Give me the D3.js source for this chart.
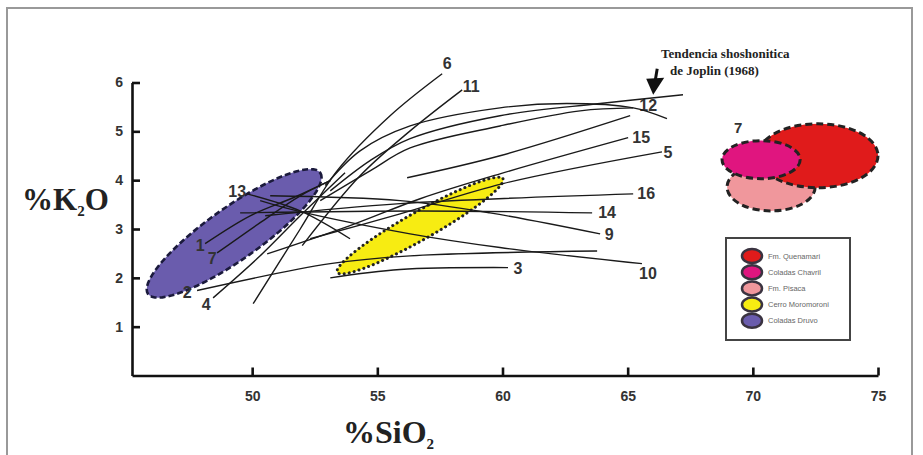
<!DOCTYPE html>
<html><head><meta charset="utf-8">
<script src="https://cdn.jsdelivr.net/npm/d3@7"></script>
<style>body{margin:0;background:#fff}</style>
</head><body><svg id="c" width="923" height="455"></svg>
<script>
// ---------- DATA (SiO2 %, K2O %) ----------
const xTicks = [50, 55, 60, 65, 70, 75];
const yTicks = [1, 2, 3, 4, 5, 6];

const line1  = [[48.12,2.70],[49.92,3.27],[51.64,3.64],[53.12,3.99]];
const line2  = [[47.80,1.74],[53.12,2.29],[56.31,2.45],[63.78,2.55]];
const line3  = [[53.12,2.00],[55.91,2.17],[60.22,2.21]];
const line4  = [[48.44,1.59],[50.32,2.45],[51.92,3.27],[53.71,4.15]];
const line5  = [[52.32,2.80],[55.91,3.31],[60.02,3.93],[66.37,4.58]];
const line6  = [[50.04,1.47],[51.92,3.00],[53.39,4.19],[55.51,5.32],[57.59,6.18]];
const line7  = [[48.60,2.51],[50.32,3.13],[51.92,3.68],[53.12,3.99]];
const line9  = [[50.72,3.68],[55.91,3.58],[59.50,3.33],[63.90,2.90]];
const line10 = [[50.32,3.58],[51.80,3.37],[56.31,2.90],[59.90,2.62],[65.57,2.29]];
const line11 = [[52.00,2.66],[54.31,4.09],[56.31,5.01],[58.39,5.85]];
const line12 = [[52.72,3.58],[54.71,4.19],[56.31,4.66],[59.90,5.11],[63.10,5.42],[65.22,5.48]];
const line13 = [[49.80,3.72],[51.92,3.37],[53.91,2.80]];
const line14 = [[49.52,3.33],[56.71,3.37],[63.58,3.33]];
const line15 = [[50.60,2.49],[53.91,3.07],[56.71,3.62],[59.90,4.13],[65.02,4.87]];
const line16 = [[50.52,3.27],[55.91,3.52],[65.22,3.72]];
const lineA  = [[56.19,4.05],[59.90,4.50],[65.10,5.32]];
const lineB  = [[52.92,3.89],[54.31,4.60],[56.31,5.11],[59.90,5.48],[62.58,5.57],[65.22,5.48],[66.57,5.26]];
const joplin = [[53.12,3.78],[54.71,4.40],[56.31,4.85],[59.90,5.32],[63.90,5.57],[67.21,5.75]];

// rotated fields: centre, end of major axis, end of minor axis
const druvoField = [[49.28,2.91],[52.72,4.15],[49.88,2.47]];
const cerroField = [[56.71,3.07],[60.02,4.03],[56.98,2.82]];
// axis-aligned fields: centre x, centre y, half-width (SiO2), half-height (K2O)
const pisacaField    = [70.73, 3.86, 1.76, 0.49];
const quenamariField = [72.60, 4.50, 2.40, 0.655];
const chavrilField   = [70.33, 4.42, 1.56, 0.39];

const legendNames  = ["Fm. Quenamari","Coladas Chavril","Fm. Pisaca","Cerro Moromoroni","Coladas Druvo"];
const legendColors = ["#e01b1b","#e0157f","#f0979c","#f7ec12","#6a5cad"];

// ---------- CHART ----------
const svg = d3.select("#c");
const x = d3.scaleLinear().domain([45.2, 75]).range([132, 878]);
const y = d3.scaleLinear().domain([0, 6]).range([375.5, 82.5]);
const numFont = "'Liberation Sans Narrow','Liberation Sans',Arial,sans-serif";
const serif = "'Liberation Serif','Times New Roman',serif";

svg.append("rect").attr("width",923).attr("height",455).attr("fill","#fff");
svg.append("rect").attr("x",7).attr("y",8).attr("width",905).attr("height",470)
  .attr("fill","none").attr("stroke","#999").attr("stroke-width",2);

// rotated ellipse through the scales
function fieldPath(f){
  const c=[x(f[0][0]),y(f[0][1])], a=[x(f[1][0]),y(f[1][1])], b=[x(f[2][0]),y(f[2][1])];
  const pts=d3.range(0,72).map(i=>{const t=i/72*2*Math.PI;
    return [c[0]+Math.cos(t)*(a[0]-c[0])+Math.sin(t)*(b[0]-c[0]),
            c[1]+Math.cos(t)*(a[1]-c[1])+Math.sin(t)*(b[1]-c[1])];});
  return d3.line().curve(d3.curveLinearClosed)(pts);
}
svg.append("path").attr("d",fieldPath(druvoField)).attr("fill",legendColors[4])
  .attr("stroke","#1b1a3c").attr("stroke-width",2.6).attr("stroke-dasharray","6,3");
svg.append("path").attr("d",fieldPath(cerroField)).attr("fill",legendColors[3])
  .attr("stroke","#222").attr("stroke-width",3).attr("stroke-linecap","round").attr("stroke-dasharray","0.1,5");

function field(f,color){
  svg.append("ellipse").attr("cx",x(f[0])).attr("cy",y(f[1]))
    .attr("rx",x(f[0]+f[2])-x(f[0])).attr("ry",y(f[1])-y(f[1]+f[3]))
    .attr("fill",color).attr("stroke","#222").attr("stroke-width",3).attr("stroke-dasharray","7,4");
}
field(pisacaField,legendColors[2]);
field(quenamariField,legendColors[0]);
field(chavrilField,legendColors[1]);
svg.append("text").attr("x",x(69.41)).attr("y",y(5.07)).attr("text-anchor","middle")
  .attr("dominant-baseline","central").attr("font-family",numFont).attr("font-weight","bold")
  .attr("font-size",15).attr("fill","#333").text("7");

// trend lines
const trends = [
  {d:line6,name:"6",at:1,dx:5,dy:-10},{d:line11,name:"11",at:1,dx:9,dy:-3},
  {d:line12,name:"12",at:1,dx:15,dy:-2},{d:line15,name:"15",at:1,dx:13,dy:0},
  {d:line5,name:"5",at:1,dx:6,dy:1},{d:line16,name:"16",at:1,dx:13,dy:0},
  {d:line14,name:"14",at:1,dx:15,dy:0},{d:line9,name:"9",at:1,dx:9,dy:1},
  {d:line10,name:"10",at:1,dx:6,dy:10},{d:line3,name:"3",at:1,dx:10,dy:1},
  {d:line13,name:"13",at:0,dx:-10,dy:-2},{d:line1,name:"1",at:0,dx:-5,dy:2},
  {d:line7,name:"7",at:0,dx:-5,dy:6},{d:line2,name:"2",at:0,dx:-10,dy:2},
  {d:line4,name:"4",at:0,dx:-7,dy:7},
  {d:lineA,name:""},{d:lineB,name:""},{d:joplin,name:""}
];
const lg = d3.line().x(d=>x(d[0])).y(d=>y(d[1])).curve(d3.curveCatmullRom.alpha(0.5));
trends.forEach(t=>{
  svg.append("path").attr("d",lg(t.d)).attr("fill","none").attr("stroke","#1a1a1a").attr("stroke-width",1.4);
  if(t.name){
    const p = t.at ? t.d[t.d.length-1] : t.d[0];
    svg.append("text").attr("x",x(p[0])+t.dx).attr("y",y(p[1])+t.dy)
      .attr("text-anchor","middle").attr("dominant-baseline","central")
      .attr("font-family",numFont).attr("font-weight","bold").attr("font-size",16)
      .attr("fill","#333").text(t.name);
  }
});

// Joplin annotation
const tip=[x(66.02),y(5.75)];
svg.append("path").attr("d",`M${tip[0]+4},${tip[1]-26}L${tip[0]+2},${tip[1]-14}`)
  .attr("stroke","#111").attr("stroke-width",3);
svg.append("path").attr("d",`M${tip[0]-7},${tip[1]-16}L${tip[0]+11},${tip[1]-17}L${tip[0]},${tip[1]}Z`).attr("fill","#111");
svg.append("text").attr("x",661).attr("y",58).attr("font-family",serif).attr("font-weight","bold")
  .attr("font-size",13).attr("fill","#222").text("Tendencia shoshonitica");
svg.append("text").attr("x",670).attr("y",75).attr("font-family",serif).attr("font-weight","bold")
  .attr("font-size",13).attr("fill","#222").text("de Joplin (1968)");

// axes
const gx = svg.append("g").attr("transform",`translate(0,${y.range()[0]})`)
  .call(d3.axisBottom(x).tickValues(xTicks).tickFormat(d3.format("d")).tickSize(-8).tickPadding(16).tickSizeOuter(0));
const gy = svg.append("g").attr("transform",`translate(${x.range()[0]},0)`)
  .call(d3.axisLeft(y).tickValues(yTicks).tickFormat(d3.format("d")).tickSize(-8).tickPadding(9).tickSizeOuter(0));
[gx,gy].forEach(g=>{
  g.select(".domain").attr("stroke","#111").attr("stroke-width",2.6);
  g.selectAll(".tick line").attr("stroke","#111").attr("stroke-width",2.6);
  g.selectAll(".tick text").attr("font-family",numFont).attr("font-weight","bold")
   .attr("font-size",14).attr("fill","#333");
});

// axis titles
const ty = svg.append("text").attr("x",22).attr("y",210).attr("font-family",serif)
  .attr("font-weight","bold").attr("font-size",31).attr("fill","#222");
ty.append("tspan").text("%K");
ty.append("tspan").attr("font-size",15).attr("dy",6).text("2");
ty.append("tspan").attr("dy",-6).text("O");
const tx = svg.append("text").attr("x",343).attr("y",443).attr("font-family",serif)
  .attr("font-weight","bold").attr("font-size",32).attr("fill","#222");
tx.append("tspan").text("%SiO");
tx.append("tspan").attr("font-size",15).attr("dy",6).text("2");

// legend
const lgd = svg.append("g");
lgd.append("rect").attr("x",726).attr("y",238).attr("width",124).attr("height",102)
  .attr("fill","#fff").attr("stroke","#444").attr("stroke-width",2);
legendNames.forEach((n,i)=>{
  const yy = 256 + i*16.2;
  lgd.append("ellipse").attr("cx",752).attr("cy",yy).attr("rx",10).attr("ry",7)
    .attr("fill",legendColors[i]).attr("stroke","#3a3340").attr("stroke-width",2.5);
  lgd.append("text").attr("x",768).attr("y",yy).attr("dominant-baseline","central")
    .attr("font-family","'Liberation Sans',Arial,sans-serif").attr("font-size",7.5)
    .attr("fill","#666").text(n);
});
</script></body></html>
